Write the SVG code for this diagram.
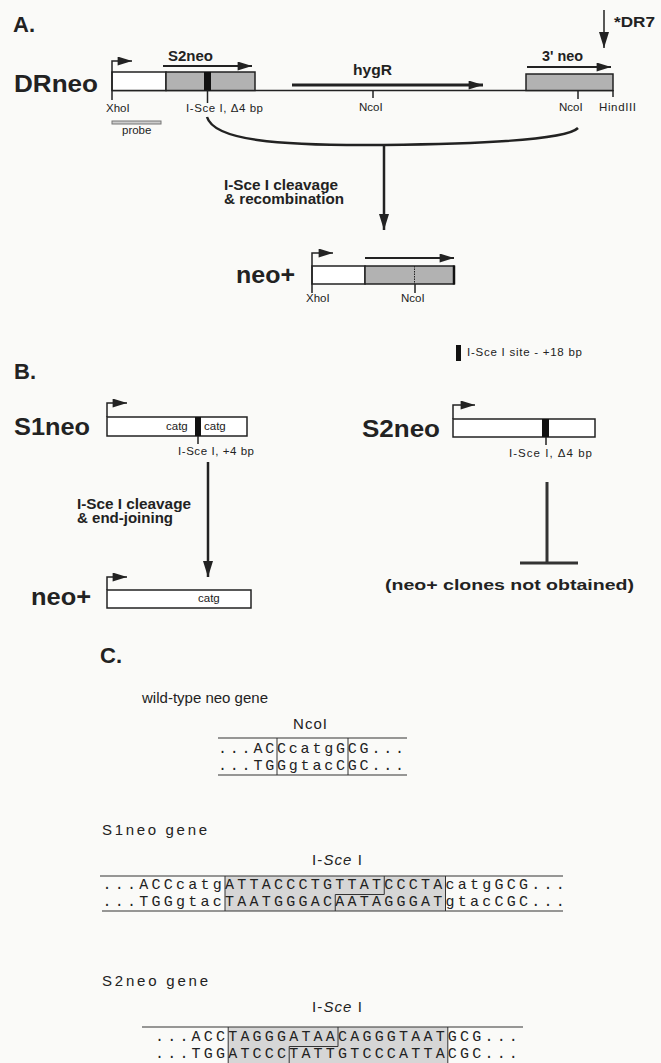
<svg xmlns="http://www.w3.org/2000/svg" width="661" height="1063" viewBox="0 0 661 1063">
<style>
text{font-family:"Liberation Sans",Arial,Helvetica,sans-serif;fill:#222}
.sec{font-weight:bold;font-size:22px}
.big{font-weight:bold;font-size:24px}
.gn{font-weight:bold;font-size:14px}
.st{font-size:11.5px}
.cl{font-size:15px}
.seq{font-family:"Liberation Mono","DejaVu Sans Mono",monospace;font-size:15px}
.ln{stroke:#222;stroke-width:1.5;fill:none}
.box{stroke:#222;stroke-width:1.5;fill:#fff}
.hat{stroke:#222;stroke-width:1.5;fill:#b2b2b2}
.arr{stroke:#222;stroke-width:2;fill:none;marker-end:url(#ah)}
.thick{stroke:#222;stroke-width:2.5;fill:none}
.sh{fill:#d6d6d6;stroke:none}
.thin{stroke:#333;stroke-width:1;fill:none}
</style>
<defs>
<marker id="ah" viewBox="0 0 16 10" refX="16" refY="5" markerWidth="15" markerHeight="9" orient="auto" markerUnits="userSpaceOnUse">
<path d="M0,0 L16,5 L0,10 z" fill="#222"/>
</marker>
<marker id="ahv" viewBox="0 0 16 10" refX="16" refY="5" markerWidth="17" markerHeight="10" orient="auto" markerUnits="userSpaceOnUse">
<path d="M0,0 L16,5 L0,10 z" fill="#222"/>
</marker>
</defs>
<rect x="0" y="0" width="661" height="1063" fill="#fafaf8"/>

<g id="sectionA-title"><text class="sec" x="13" y="32">A.</text></g>

<g id="drneo">
<text class="big" x="14" y="92" textLength="84" lengthAdjust="spacingAndGlyphs">DRneo</text>
<line class="ln" x1="112" y1="90.5" x2="613" y2="90.5"/>
<rect class="box" x="112" y="72" width="54" height="18.5"/>
<rect class="hat" x="166" y="72" width="89" height="18.5"/>
<rect x="204" y="72" width="7" height="18.5" fill="#111"/>
<rect class="hat" x="526" y="74" width="87" height="16.5"/>
<path class="ln" d="M112,100 V61 H132" marker-end="url(#ah)"/>
<line class="ln" x1="207.5" y1="90" x2="207.5" y2="103"/>
<line class="ln" x1="373" y1="90" x2="373" y2="98"/>
<line class="ln" x1="578" y1="90" x2="578" y2="99"/>
<line class="ln" x1="613" y1="90" x2="613" y2="97"/>
<rect x="112" y="121" width="49" height="3" fill="#ccc" stroke="#777" stroke-width="1"/>
<text class="st" x="106" y="112">XhoI</text>
<text class="st" x="186" y="112" textLength="77">I-Sce I, Δ4 bp</text>
<text class="st" x="122" y="134" font-size="11">probe</text>
<text class="st" x="359" y="111">NcoI</text>
<text class="st" x="559" y="111">NcoI</text>
<text class="st" x="599" y="111" textLength="37">HindIII</text>
</g>

<g id="gene-arrows">
<text class="gn" x="168" y="61" textLength="45" lengthAdjust="spacingAndGlyphs">S2neo</text>
<line class="arr" x1="163" y1="66" x2="252" y2="66"/>
<text class="gn" x="353" y="75" textLength="39" lengthAdjust="spacingAndGlyphs">hygR</text>
<line x1="292" y1="85" x2="483" y2="85" stroke="#222" stroke-width="3" marker-end="url(#ah)"/>
<text class="gn" x="542" y="61" textLength="41" lengthAdjust="spacingAndGlyphs">3' neo</text>
<line class="arr" x1="527" y1="67" x2="611" y2="67"/>
</g>

<g id="dr7">
<text class="gn" x="614" y="27" font-size="15" textLength="41" lengthAdjust="spacingAndGlyphs">*DR7</text>
</g>

<g id="neoplus-A">
<text class="big" x="236" y="283" textLength="59" lengthAdjust="spacingAndGlyphs">neo+</text>
<rect class="box" x="312" y="266" width="53" height="18"/>
<rect class="hat" x="365" y="266" width="89" height="18"/>
<line x1="414.5" y1="266" x2="414.5" y2="284" stroke="#222" stroke-width="1" stroke-dasharray="1.5,1"/>
<line x1="454" y1="265.5" x2="454" y2="284.5" stroke="#111" stroke-width="2.5"/>
<path class="ln" d="M312,293 V253 H333" marker-end="url(#ah)"/>
<line class="ln" x1="415" y1="284" x2="415" y2="293"/>
<line class="arr" x1="365" y1="258" x2="454" y2="258"/>
<text class="st" x="306" y="302">XhoI</text>
<text class="st" x="401" y="302">NcoI</text>
</g>

<g id="sectionB-title"><text class="sec" x="14" y="379">B.</text></g>

<g id="legend">
<rect x="456" y="345" width="5" height="16" fill="#111"/>
<text class="st" x="467" y="356" font-size="12.5" textLength="115">I-Sce I site - +18 bp</text>
</g>

<g id="s1neo">
<text class="big" x="14" y="435" textLength="76" lengthAdjust="spacingAndGlyphs">S1neo</text>
<rect class="box" x="107" y="417" width="140" height="19"/>
<rect x="195" y="417" width="6" height="19" fill="#111"/>
<path class="ln" d="M107,417 V403 H127" marker-end="url(#ah)"/>
<line class="ln" x1="198" y1="436" x2="198" y2="444"/>
<text class="st" x="166" y="430" font-size="12">catg</text>
<text class="st" x="204" y="430" font-size="12">catg</text>
<text class="st" x="178" y="455" textLength="76">I-Sce I, +4 bp</text>
</g>

<g id="s2neo">
<text class="big" x="362" y="437" textLength="78" lengthAdjust="spacingAndGlyphs">S2neo</text>
<rect class="box" x="453" y="419" width="142" height="18"/>
<rect x="542" y="419" width="7" height="18" fill="#111"/>
<path class="ln" d="M453,419 V405 H475" marker-end="url(#ah)"/>
<line class="ln" x1="546" y1="437" x2="546" y2="445"/>
<text class="st" x="509" y="457" textLength="83">I-Sce I, Δ4 bp</text>
</g>

<g id="neoplus-B">
<text class="big" x="31" y="605" textLength="60" lengthAdjust="spacingAndGlyphs">neo+</text>
<rect class="box" x="107" y="590" width="144" height="18"/>
<path class="ln" d="M107,590 V577 H127" marker-end="url(#ah)"/>
<text class="st" x="198" y="602" font-size="12">catg</text>
</g>

<g id="not-obtained">
<text class="gn" x="385" y="590" font-size="17" textLength="249" lengthAdjust="spacingAndGlyphs">(neo+ clones not obtained)</text>
</g>

<g id="connectors">
<path class="thick" d="M207,117 C214,140 275,146 384,145 C480,144 566,140 578,128"/>
<line x1="384" y1="145" x2="384" y2="230" stroke="#222" stroke-width="2.5" marker-end="url(#ahv)"/>
<line x1="604" y1="10" x2="604" y2="48" stroke="#222" stroke-width="1.5" marker-end="url(#ahv)"/>
<line x1="208" y1="462" x2="208" y2="577" stroke="#222" stroke-width="2.5" marker-end="url(#ahv)"/>
<line x1="547" y1="482" x2="547" y2="563" stroke="#333" stroke-width="3"/>
<line x1="520" y1="563" x2="578" y2="563" stroke="#333" stroke-width="3"/>
</g>

<g id="connector-labels">
<text class="gn" x="224" y="190" textLength="114" lengthAdjust="spacingAndGlyphs">I-Sce I cleavage</text>
<text class="gn" x="224" y="204" textLength="120" lengthAdjust="spacingAndGlyphs">&amp; recombination</text>
<text class="gn" x="77" y="509" textLength="114" lengthAdjust="spacingAndGlyphs">I-Sce I cleavage</text>
<text class="gn" x="77" y="523" textLength="96" lengthAdjust="spacingAndGlyphs">&amp; end-joining</text>
</g>

<g id="sectionC-title"><text class="sec" x="100" y="663" font-size="27">C.</text></g>

<g id="wildtype">
<text class="cl" x="142" y="703" textLength="126">wild-type neo gene</text>
<text class="cl" x="293" y="729" textLength="34">NcoI</text>
<line class="thin" x1="218" y1="738" x2="407" y2="738"/>
<line class="thin" x1="218" y1="775" x2="407" y2="775"/>
<line class="thin" x1="277" y1="738" x2="277" y2="775"/>
<line class="thin" x1="348" y1="738" x2="348" y2="775"/>
<text class="seq" x="218" y="753" letter-spacing="2.8">...ACCcatgGCG...</text>
<text class="seq" x="218" y="770" letter-spacing="2.8">...TGGgtacCGC...</text>
</g>

<g id="s1neo-gene">
<text class="cl" x="102" y="835" textLength="105">S1neo gene</text>
<text class="cl" x="312" y="865" textLength="50">I-<tspan font-style="italic">Sce</tspan> I</text>
<rect class="sh" x="225" y="876" width="220.5" height="35"/>
<line class="thin" x1="100" y1="876" x2="563" y2="876"/>
<line class="thin" x1="102" y1="911" x2="563" y2="911"/>
<line class="thin" x1="225" y1="876" x2="225" y2="911"/>
<line class="thin" x1="445.5" y1="876" x2="445.5" y2="911"/>
<path class="thin" d="M384.25,876 V894.5 H335.25 V911"/>
<text class="seq" x="102.5" y="889" letter-spacing="3.25">...ACCcatgATTACCCTGTTATCCCTAcatgGCG...</text>
<text class="seq" x="102.5" y="906" letter-spacing="3.25">...TGGgtacTAATGGGACAATAGGGATgtacCGC...</text>
</g>

<g id="s2neo-gene">
<text class="cl" x="102" y="986" textLength="106">S2neo gene</text>
<text class="cl" x="312" y="1012" textLength="50">I-<tspan font-style="italic">Sce</tspan> I</text>
<rect class="sh" x="228.2" y="1027" width="219.6" height="36"/>
<line class="thin" x1="142" y1="1027" x2="523" y2="1027"/>
<line class="thin" x1="228.2" y1="1027" x2="228.2" y2="1063"/>
<line class="thin" x1="447.8" y1="1027" x2="447.8" y2="1063"/>
<path class="thin" d="M338,1027 V1046.5 H289.2 V1063"/>
<text class="seq" x="155" y="1041" letter-spacing="3.2">...ACCTAGGGATAACAGGGTAATGCG...</text>
<text class="seq" x="155" y="1058" letter-spacing="3.2">...TGGATCCCTATTGTCCCATTACGC...</text>
</g>
</svg>
